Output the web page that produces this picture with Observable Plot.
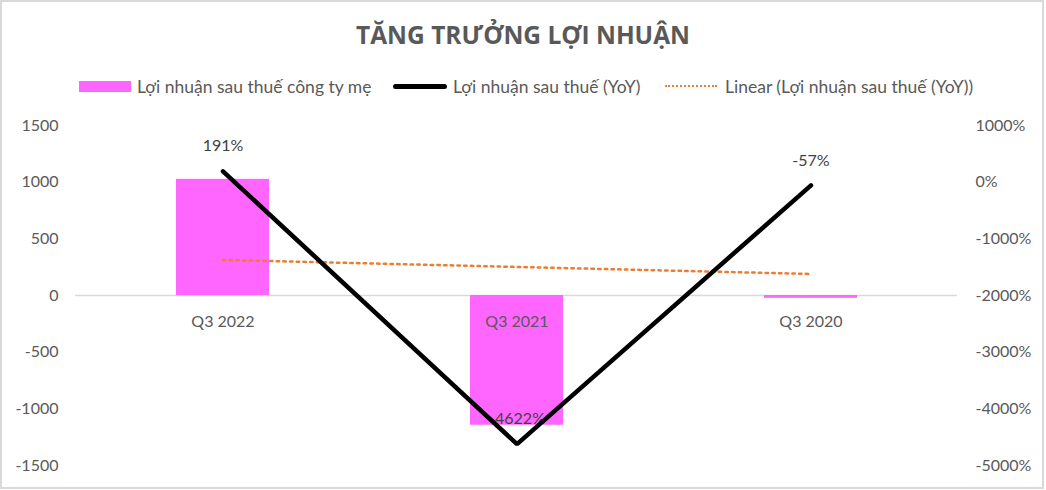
<!DOCTYPE html>
<html>
<head>
<meta charset="utf-8">
<script src="https://cdn.jsdelivr.net/npm/d3@7"></script>
<script src="https://cdn.jsdelivr.net/npm/@observablehq/plot@0.6"></script>
<style>
  html, body { margin: 0; padding: 0; background: #fff; }
  #wrap { position: relative; width: 1046px; height: 490px; overflow: hidden; font-family: Lato, "Open Sans", sans-serif; }
  #frame { position: absolute; left: 0; top: 0; width: 1044px; height: 489px; box-sizing: border-box; border: 2px solid #d9d9d9; pointer-events: none; }
  #title { position: absolute; left: 0; width: 1046px; top: 18px; text-align: center; font-family: "Open Sans", sans-serif; font-weight: 700; font-size: 24.5px; color: #595959; }
  .leg { position: absolute; top: 75px; height: 22px; display: flex; align-items: center; font-size: 17.5px; color: #595959; white-space: nowrap; }
  .sw { display: inline-block; margin-right: 6px; }
  #chart { position: absolute; left: 0; top: 0; }
</style>
</head>
<body>
<div id="wrap">
  <div id="chart"></div>
  <div id="title">TĂNG TRƯỞNG LỢI NHUẬN</div>
  <div class="leg" style="left:79px"><span class="sw" style="width:52px;height:11px;background:#FF66FF"></span><span id="l1"></span></div>
  <div class="leg" style="left:393px"><span class="sw" style="width:54px;height:0;border-top:5px solid #000;border-radius:3px"></span><span id="l2"></span></div>
  <div class="leg" style="left:665px"><span class="sw" style="width:52px;height:0;border-top:2.5px dotted #ED7D31;margin-right:8px"></span><span id="l3"></span></div>
  <div id="frame"></div>
</div>
<script>
const categories = ["Q3 2022", "Q3 2021", "Q3 2020"];
const profit = [1025, -1145, -25];          // Lợi nhuận sau thuế công ty mẹ (left axis)
const yoy = [191, -4622, -57];              // Lợi nhuận sau thuế (YoY), % (right axis)
const trend = [-1372, -1496, -1620];        // Linear trend of YoY, % (right axis)
const seriesNames = ["Lợi nhuận sau thuế công ty mẹ", "Lợi nhuận sau thuế (YoY)", "Linear (Lợi nhuận sau thuế (YoY))"];
const leftTicks = [1500, 1000, 500, 0, -500, -1000, -1500];
const rightTicks = [1000, 0, -1000, -2000, -3000, -4000, -5000];

document.getElementById("l1").textContent = seriesNames[0];
document.getElementById("l2").textContent = seriesNames[1];
document.getElementById("l3").textContent = seriesNames[2];

// right axis (%) mapped onto left axis domain: -5000..1000 -> -1500..1500
const toLeft = p => 1000 + p / 2;
const fromLeft = v => (v - 1000) * 2;

const data = categories.map((c, i) => ({cat: c, profit: profit[i], yoy: yoy[i], trend: trend[i]}));

const font = "Lato, 'Open Sans', sans-serif";
const chart = Plot.plot({
  width: 1046,
  height: 490,
  marginTop: 125,
  marginBottom: 25,
  marginLeft: 75,
  marginRight: 89,
  style: {fontFamily: font, fontSize: "16px", color: "#595959", background: "transparent"},
  x: {type: "band", domain: categories, paddingInner: 0.684, paddingOuter: 0.342, axis: null},
  y: {domain: [-1500, 1500], axis: null},
  marks: [
    Plot.ruleY([0], {stroke: "#d9d9d9", strokeWidth: 1.5}),
    Plot.barY(data, {x: "cat", y: "profit", fill: "#FF66FF"}),
    Plot.axisY(leftTicks, {anchor: "left", label: null, tickSize: 0, tickPadding: 17, fontSize: 16, fill: "#595959", tickFormat: v => String(v)}),
    Plot.axisY(rightTicks.map(toLeft), {anchor: "right", label: null, tickSize: 0, tickPadding: 18, fontSize: 16, fill: "#595959", tickFormat: v => fromLeft(v) + "%"}),
    Plot.text(data, {x: "cat", y: () => 0, text: "cat", dy: 26, fontSize: 16, fill: "#595959"}),
    Plot.text(data, {x: "cat", y: d => toLeft(d.yoy), text: d => d.yoy + "%", dy: -25, fontSize: 16, fill: "#404040"}),
    Plot.line(data, {x: "cat", y: d => toLeft(d.trend), stroke: "#ED7D31", strokeWidth: 2.5, strokeDasharray: "2.5 4.2"}),
    Plot.line(data, {x: "cat", y: d => toLeft(d.yoy), stroke: "#000", strokeWidth: 4.5, strokeLinejoin: "miter", strokeLinecap: "round"})
  ]
});
document.getElementById("chart").appendChild(chart);
</script>
</body>
</html>
